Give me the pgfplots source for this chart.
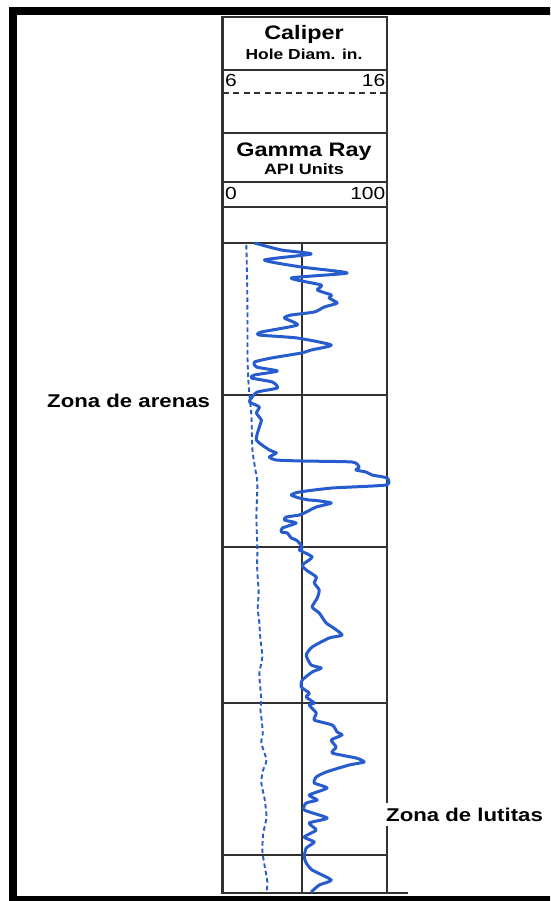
\documentclass[border=0pt]{standalone}
\usepackage{pgfplots}
\pgfplotsset{compat=1.18}
\usepackage{fontspec}
\setmainfont{Liberation Sans}
\newfontfamily\lab[FakeStretch=1.2]{Liberation Sans}
\definecolor{logblue}{RGB}{38,92,205}
\definecolor{gridc}{RGB}{50,50,50}
\begin{document}
\begin{tikzpicture}
\path[use as bounding box] (0,0) rectangle (550pt,-901pt);
\clip (0,0) rectangle (550pt,-901pt);
% outer frame (top, left, bottom)
\draw[line width=8pt] (552pt,-11pt) -- (13pt,-11pt) -- (13pt,-899.5pt) -- (552pt,-899.5pt);
% header boxes
\begin{scope}[line width=2.2pt, draw=gridc]
\draw (222.5pt,-17pt) rectangle (387pt,-243pt);
\draw (222.5pt,-70pt) -- (387pt,-70pt);
\draw (222.5pt,-133pt) -- (387pt,-133pt);
\draw (222.5pt,-182pt) -- (387pt,-182pt);
\draw (222.5pt,-207pt) -- (387pt,-207pt);
\end{scope}
\draw[line width=2.2pt, draw=gridc, dash pattern=on 6pt off 4.5pt] (222.5pt,-93pt) -- (387pt,-93pt);
\node[anchor=base, inner sep=0] at (304pt,-40pt) {\lab\bfseries\fontsize{19.5}{20}\selectfont Caliper};
\node[anchor=base, inner sep=0] at (304pt,-60pt) {\lab\bfseries\fontsize{14.5}{15}\selectfont Hole Diam. in.};
\node[anchor=base west, inner sep=0] at (225pt,-87pt) {\lab\fontsize{17.5}{18}\selectfont 6};
\node[anchor=base east, inner sep=0] at (385.5pt,-87pt) {\lab\fontsize{17.5}{18}\selectfont 16};
\node[anchor=base, inner sep=0] at (304pt,-157pt) {\lab\bfseries\fontsize{19.5}{20}\selectfont Gamma Ray};
\node[anchor=base, inner sep=0] at (304pt,-175pt) {\lab\bfseries\fontsize{15}{16}\selectfont API Units};
\node[anchor=base west, inner sep=0] at (225pt,-200pt) {\lab\fontsize{17.5}{18}\selectfont 0};
\node[anchor=base east, inner sep=0] at (385.5pt,-200pt) {\lab\fontsize{17.5}{18}\selectfont 100};
% Gamma ray track
\begin{axis}[
  at={(222.5pt,-893pt)}, anchor=south west,
  width=164.5pt, height=650pt, scale only axis,
  xmin=0, xmax=100, ymin=0, ymax=650, y dir=reverse,
  xtick=\empty, ytick=\empty,
  extra x ticks={48.5}, extra x tick labels={},
  extra y ticks={152,304,460,612}, extra y tick labels={},
  extra x tick style={grid=major, major tick length=0pt},
  extra y tick style={grid=major, major tick length=0pt},
  major grid style={draw=gridc, line width=2pt},
  axis line style={draw=gridc, line width=2.1pt},
  clip=false,
]
\addplot[logblue, line width=3pt, line join=round, smooth, tension=0.35] coordinates {
(19.4,0) (35.8,7) (53.9,11) (25.5,17) (47.9,24) (75.8,30) (41.8,35) (60.0,42)
(57.6,47) (66.1,52) (64.8,55) (69.7,60) (61.8,64) (55.8,69) (41.8,72) (37.6,75)
(45.5,82) (23.6,89) (22.4,92) (45.5,95) (66.1,102) (53.9,107) (47.9,110) (29.7,115)
(19.4,119) (20.6,124) (33.3,128) (19.4,132) (17.6,135) (30.3,139) (33.3,145) (21.2,149)
(17.6,155) (16.4,159) (22.4,164) (20.6,170) (23.6,177) (22.4,184) (20.6,197) (28.5,207)
(32.7,210) (28.5,214) (32.7,217) (48.5,218) (78.8,219) (83.0,224) (81.2,227) (87.3,229)
(90.9,232) (100,235) (99.4,242) (66.7,245) (46.7,249) (41.8,252) (46.7,255) (52.7,257)
(57.0,257.5) (66.1,260) (57.0,264) (50.9,269) (46.7,272) (38.8,274) (37.6,277) (44.8,280)
(36.4,285) (35.8,289) (39.4,290) (41.8,295) (44.8,297) (46.7,300) (48.5,305) (46.7,307)
(54.5,314) (48.5,322) (50.9,327) (57.0,334) (55.8,340) (58.8,347) (57.6,355) (54.5,364)
(58.8,370) (63.0,380) (66.7,384) (72.7,392) (64.8,395) (54.5,404) (50.9,412) (53.9,422)
(60.0,425) (54.5,429) (48.5,437) (47.9,444) (52.7,450) (50.9,454) (55.8,460) (52.7,462)
(57.0,470) (55.8,477) (66.7,482) (69.7,489) (72.7,492) (66.1,497) (69.1,504) (66.7,510)
(81.2,515) (86.1,519) (77.0,522) (63.0,529) (57.0,534) (55.8,540) (63.6,545) (52.7,552)
(57.6,557) (50.9,560) (49.7,567) (63.6,575) (52.7,580) (57.0,587) (49.7,594) (55.8,599)
(50.9,605) (49.7,614) (50.9,620) (54.5,627) (66.1,637) (58.8,642) (53.9,649)
};
\end{axis}
% Caliper curve
\begin{axis}[
  at={(222.5pt,-893pt)}, anchor=south west,
  width=164.5pt, height=650pt, scale only axis,
  xmin=6, xmax=16, ymin=0, ymax=650, y dir=reverse,
  hide axis,
]
\addplot[logblue, line width=1.9pt, dash pattern=on 4.5pt off 3pt, smooth, tension=0.4] coordinates {
(7.45,2) (7.50,40) (7.52,80) (7.52,115) (7.58,140) (7.64,152) (7.76,174) (7.82,207)
(7.98,225) (8.12,240) (8.06,274) (8.12,307) (8.10,320) (8.12,330) (8.20,350) (8.14,365)
(8.24,380) (8.30,395) (8.42,414) (8.24,430) (8.30,445) (8.36,457) (8.30,466) (8.36,474)
(8.45,490) (8.36,500) (8.67,517) (8.45,528) (8.36,540) (8.55,555) (8.67,574) (8.48,590)
(8.42,607) (8.55,622) (8.73,639) (8.67,650)
};
\end{axis}
\draw[line width=2.1pt, draw=gridc] (387pt,-893pt) -- (408pt,-893pt);
\node[anchor=base west, inner sep=0] at (47pt,-407pt) {\lab\bfseries\fontsize{18.5}{19}\selectfont Zona de arenas};
\node[anchor=base west, fill=white, inner xsep=1pt, inner ysep=5pt] at (385pt,-821pt) {\lab\bfseries\fontsize{18.5}{19}\selectfont Zona de lutitas};
\end{tikzpicture}
\end{document}
